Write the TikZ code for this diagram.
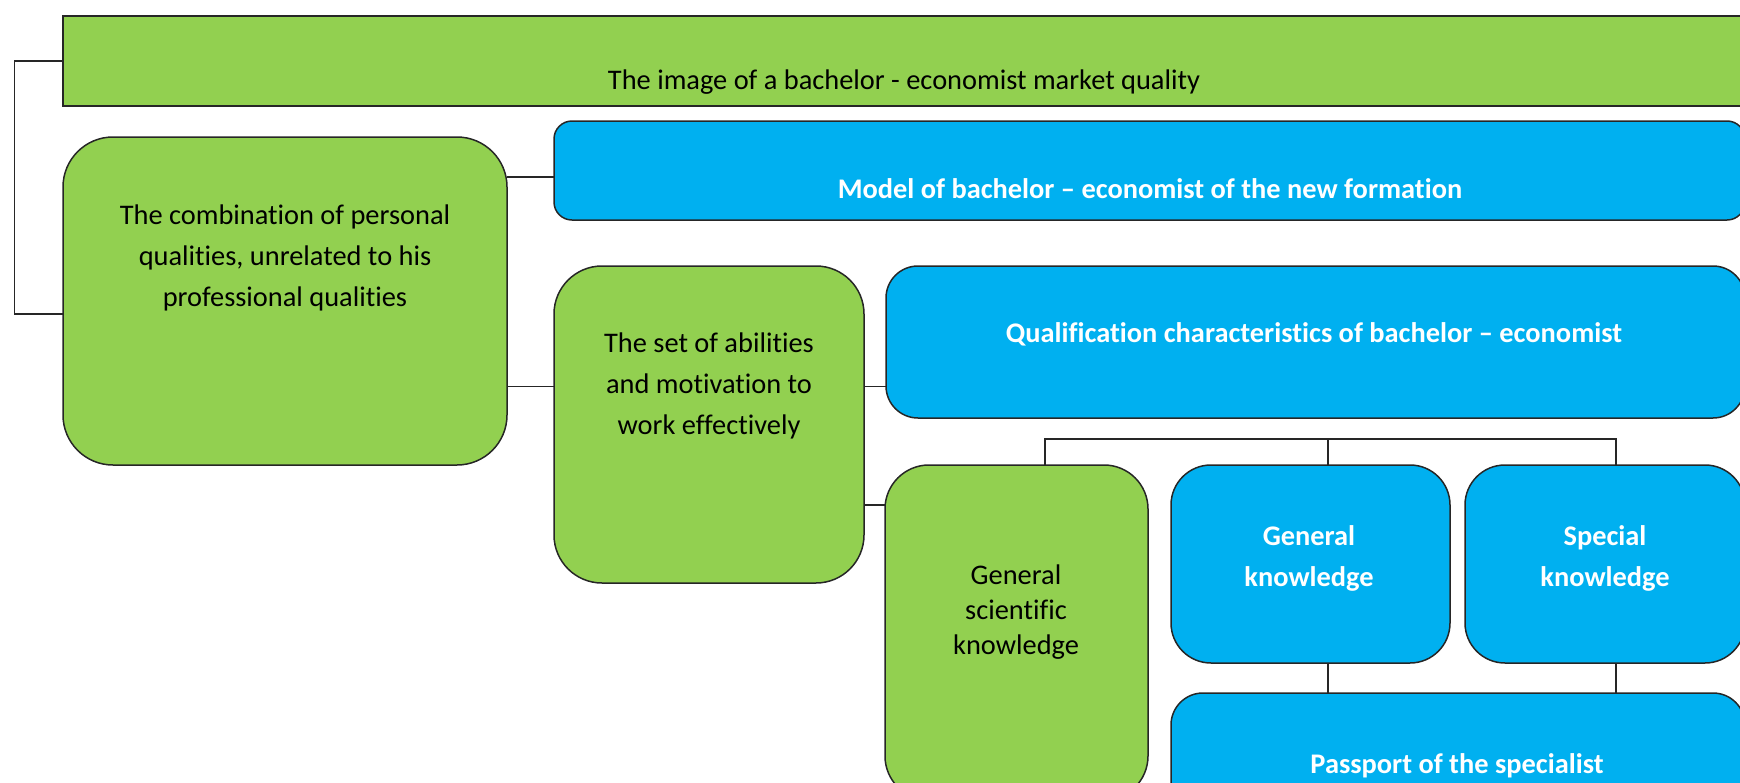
\documentclass[tikz,border=0pt]{standalone}
\usepackage{fontspec}
\setmainfont{Carlito}[Ligatures=NoCommon, Contextuals=NoAlternate]
\definecolor{boxgreen}{HTML}{92D050}
\definecolor{boxblue}{HTML}{00B0F0}
\tikzset{
  box/.style={draw=black!85, line width=0.75pt, anchor=north west, inner sep=0pt, outer sep=0pt},
  gbox/.style={box, fill=boxgreen},
  bbox/.style={box, fill=boxblue},
  txt/.style={align=center, font=\fontsize{14.2}{20.5}\selectfont},
  wtxt/.style={align=center, text=white, font=\fontsize{14.2}{20.5}\selectfont\bfseries},
  link/.style={draw=black!85, line width=0.75pt},
}
\begin{document}
\begin{tikzpicture}[x=0.5pt, y=-0.5pt]
      \useasboundingbox (0,0) rectangle (1740,782);
      \clip (0,0) rectangle (1740,782);

      \node [gbox, sharp corners, minimum width=841pt, minimum height=45pt] (top) at (63,16) {};
      \node [txt] (top-t) at (904,82) {The image of a bachelor - economist market quality};

      \node [gbox, rounded corners=25pt, minimum width=222pt, minimum height=164pt] (comb) at (63,137) {};
      \node [txt] (comb-t) at (285,258) {The combination of personal\\qualities, unrelated to his\\professional qualities};

      \node [bbox, rounded corners=9pt, minimum width=595.5pt, minimum height=49.5pt] (model) at (554,121) {};
      \node [wtxt] (model-t) at (1150,189) {Model of bachelor -- economist of the new formation};

      \node [gbox, rounded corners=24pt, minimum width=155pt, minimum height=158.5pt] (set) at (554,266) {};
      \node [txt] (set-t) at (709,386) {The set of abilities\\and motivation to\\work effectively};

      \node [bbox, rounded corners=16pt, minimum width=429.5pt, minimum height=76pt] (qual) at (886,266) {};
      \node [wtxt] (qual-t) at (1314,334) {Qualification characteristics of bachelor -- economist};

      \node [gbox, rounded corners=22pt, minimum width=131.5pt, minimum height=167.5pt] (gsci) at (885,465) {};
      \node [txt, font=\fontsize{14.2}{17.5}\selectfont] (gsci-t) at (1016,612) {General\\scientific\\knowledge};

      \node [bbox, rounded corners=20pt, minimum width=139.5pt, minimum height=99pt] (gknow) at (1171,465) {};
      \node [wtxt] (gknow-t) at (1309,558) {General\\knowledge};

      \node [bbox, rounded corners=20pt, minimum width=140pt, minimum height=99pt] (sknow) at (1465,465) {};
      \node [wtxt] (sknow-t) at (1605,558) {Special\\knowledge};

      \node [bbox, rounded corners=16pt, minimum width=287pt, minimum height=60pt] (pass) at (1171,693) {};
      \node [wtxt] (pass-t) at (1457,766) {Passport of the specialist};

      \coordinate (brk) at (14.5,0);
      \coordinate (to-model) at ([yshift=-28pt]model.north west);
      \coordinate (to-set) at ([yshift=-60.25pt]set.north west);
      \coordinate (to-gsci) at ([yshift=-20pt]gsci.north west);

      \draw [link] (top.west) -- (top.west -| brk) |- ([yshift=-88.5pt]comb.north west);
      \draw [link] (to-model -| comb.east) -- (to-model);
      \draw [link] (to-set -| comb.east) -- (to-set);
      \draw [link] (to-set -| set.east) -- (to-set -| qual.west);
      \draw [link] (to-gsci -| set.east) -- (to-gsci);

      \draw [link] ([xshift=14.25pt]gsci.north) -- ++(0,13pt) -| ([xshift=5.5pt]sknow.north);
      \draw [link] ([xshift=8.75pt]gknow.north) -- ++(0,13pt);
      \draw [link] ([xshift=8.75pt]gknow.south) -- ([xshift=8.75pt]gknow.south |- pass.north);
      \draw [link] ([xshift=5.5pt]sknow.south) -- ([xshift=5.5pt]sknow.south |- pass.north);
    \end{tikzpicture}
\end{document}
